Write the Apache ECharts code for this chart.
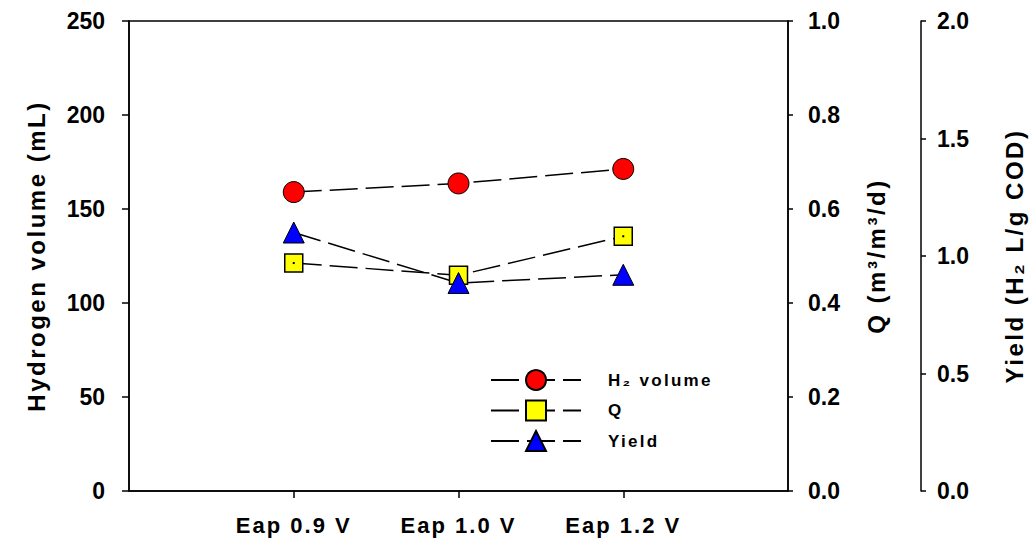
<!DOCTYPE html>
<html>
<head>
<meta charset="utf-8">
<script src="https://cdn.jsdelivr.net/npm/echarts@6/dist/echarts.min.js"></script>
<style>
html,body{margin:0;padding:0;background:#fff;overflow:hidden;width:1034px;height:548px;}
#c{width:1034px;height:548px;overflow:hidden;}
#c text[style*="24px"]{letter-spacing:2.5px;}
#c text[style*="17px"]{letter-spacing:2.3px;}
#c text[style*="22px"]{letter-spacing:2px;}
</style>
</head>
<body>
<div id="c"></div>
<script>
const categories = ['Eap 0.9 V', 'Eap 1.0 V', 'Eap 1.2 V'];
const h2Volume = [159, 163.6, 171.3];
const qValues = [0.485, 0.459, 0.542];
const yieldValues = [1.10, 0.885, 0.92];
const leftTicks = {min: 0, max: 250, interval: 50};
const qTicks = {min: 0, max: 1, interval: 0.2};
const yieldTicks = {min: 0, max: 2, interval: 0.5};

const xCats = [''].concat(categories, ['']);
const pad = arr => [null].concat(arr, [null]);

const FONT = 'Arial';
const axisLine = {show: true, lineStyle: {color: '#000', width: 1.5}};
const tick = len => ({show: true, inside: false, length: len, lineStyle: {color: '#000', width: 1.5}});
const yLabel = {color: '#000', fontFamily: FONT, fontWeight: 'bold', fontSize: 23};
const titleStyle = {color: '#000', fontFamily: FONT, fontWeight: 'bold', fontSize: 24};
const lineStyle = {color: '#000', width: 1.5, type: [28, 8]};

const chart = echarts.init(document.getElementById('c'), null, {renderer: 'svg', width: 1034, height: 548});
chart.setOption({
  animation: false,
  backgroundColor: '#fff',
  grid: {left: 129, right: 246, top: 21, bottom: 57, containLabel: false,
         show: true, borderColor: '#000', borderWidth: 1.5, backgroundColor: 'transparent'},
  xAxis: {
    type: 'category', data: xCats, boundaryGap: false,
    axisLine: axisLine,
    axisTick: {show: true, length: 7, lineStyle: {color: '#000', width: 1.5}, interval: (i, v) => v !== ''},
    axisLabel: {color: '#000', fontFamily: FONT, fontWeight: 'bold', fontSize: 22, margin: 23, interval: 0},
    splitLine: {show: false}
  },
  yAxis: [
    Object.assign({type: 'value', position: 'left'}, leftTicks, {
      name: 'Hydrogen volume (mL)', nameLocation: 'middle', nameRotate: 90, nameGap: 81,
      nameTextStyle: titleStyle,
      axisLine: axisLine, axisTick: tick(7),
      axisLabel: Object.assign({}, yLabel, {margin: 24}),
      splitLine: {show: false}
    }),
    Object.assign({type: 'value', position: 'right'}, qTicks, {
      name: 'Q (m\u00b3/m\u00b3/d)', nameLocation: 'middle', nameRotate: 90, nameGap: 76,
      nameTextStyle: titleStyle,
      axisLine: axisLine, axisTick: tick(5),
      axisLabel: Object.assign({}, yLabel, {margin: 20, formatter: v => v.toFixed(1)}),
      splitLine: {show: false}
    }),
    Object.assign({type: 'value', position: 'right', offset: 133}, yieldTicks, {
      name: 'Yield (H\u2082 L/g COD)', nameLocation: 'middle', nameRotate: 90, nameGap: 81,
      nameTextStyle: titleStyle,
      axisLine: axisLine, axisTick: tick(5),
      axisLabel: Object.assign({}, yLabel, {margin: 16, formatter: v => v.toFixed(1)}),
      splitLine: {show: false}
    })
  ],
  legend: {
    orient: 'vertical', left: 490, top: 369, padding: 0, itemWidth: 90, itemHeight: 25, itemGap: 8.5,
    data: ['H2 volume', 'Q', 'Yield'],
    formatter: name => '{s|}{b|' + (name === 'H2 volume' ? 'H\u2082 volume' : name) + '}',
    textStyle: {
      color: '#000', fontFamily: FONT, fontWeight: 'bold', fontSize: 17,
      rich: {
        s: {width: 22},
        b: {color: '#000', fontFamily: FONT, fontWeight: 'bold', fontSize: 17}
      }
    }
  },
  series: [
    {name: 'H2 volume', type: 'line', yAxisIndex: 0, data: pad(h2Volume),
     symbol: 'circle', symbolSize: 21,
     itemStyle: {color: '#ff0000', borderColor: '#000', borderWidth: 1},
     lineStyle: lineStyle},
    {name: 'Q', type: 'line', yAxisIndex: 1, data: pad(qValues),
     symbol: 'rect', symbolSize: 18,
     itemStyle: {color: '#ffff00', borderColor: '#000', borderWidth: 1.5},
     lineStyle: lineStyle},
    {name: 'Q dot', type: 'line', yAxisIndex: 1, data: pad(qValues), silent: true,
     symbol: 'rect', symbolSize: 2, showSymbol: true,
     itemStyle: {color: '#000'}, lineStyle: {width: 0, opacity: 0}},
    {name: 'Yield', type: 'line', yAxisIndex: 2, data: pad(yieldValues),
     symbol: 'triangle', symbolSize: 21,
     itemStyle: {color: '#0000ff', borderColor: '#000', borderWidth: 1},
     lineStyle: lineStyle}
  ]
});
</script>
</body>
</html>
